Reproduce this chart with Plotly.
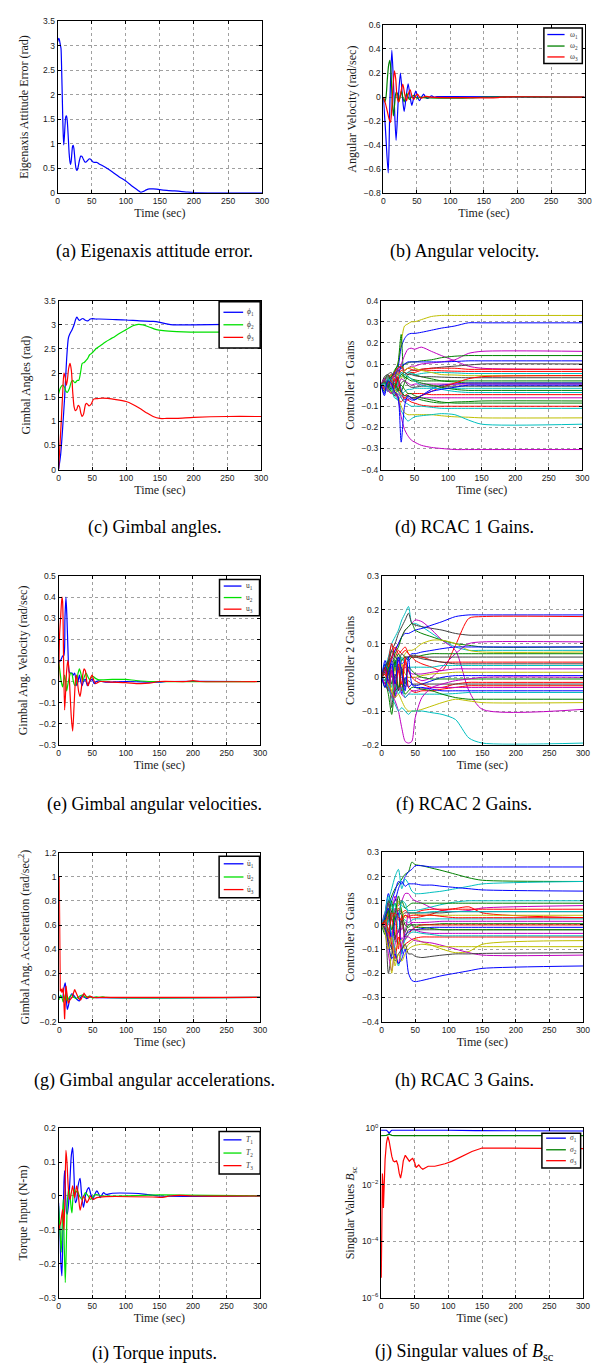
import plotly.graph_objects as go

W, H = 601, 1365
C = dict(b='#0000FF', g='#008000', r='#FF0000', c='#00BFBF', m='#BF00BF', y='#BFBF00', k='#404040', G='#00E000')

# ---------------- (a) eigenaxis attitude error ----------------
t_a = [0, 1, 2, 3, 4, 5, 6, 7, 8, 9, 10, 11, 12, 13, 14, 15, 16, 17, 18, 19, 20, 21, 22, 23, 24, 25, 26, 27, 28, 29, 30,
       32, 34, 35, 36, 38, 40, 42, 44, 46, 48, 50, 52, 54, 56, 58, 60, 70, 80, 90, 100, 110, 118, 122, 126, 130, 135,
       140, 145, 150, 160, 170, 180, 190, 200, 250, 300]
err_a = [3.08, 3.13, 3.15, 3.1, 3.02, 2.95, 2.5, 1.9, 1.3, 0.98, 1.15, 1.4, 1.55, 1.57, 1.5, 1.3, 1.05, 0.8, 0.65, 0.58,
         0.65, 0.82, 0.95, 0.97, 0.9, 0.75, 0.6, 0.5, 0.46, 0.47, 0.52, 0.66, 0.75, 0.75, 0.74, 0.68, 0.63, 0.63, 0.66,
         0.69, 0.69, 0.66, 0.63, 0.62, 0.62, 0.62, 0.6, 0.52, 0.43, 0.33, 0.24, 0.13, 0.05, 0.01, 0.03, 0.06, 0.08, 0.08,
         0.075, 0.065, 0.05, 0.04, 0.03, 0.015, 0.003, 0.0, 0.0]

# ---------------- (b) angular velocity ----------------
t_w1 = [0, 3, 7.3, 10, 12.7, 16, 19, 22.5, 25.5, 28.5, 31, 34, 37, 40, 42.5, 45.5, 48.5, 51, 54, 57, 60, 63, 66, 69, 72, 76, 80, 100, 300]
w1 = [0, -0.25, -0.63, 0.0, 0.39, 0.0, -0.36, 0.0, 0.2, 0.0, -0.12, 0.0, 0.11, 0.0, -0.07, 0.0, 0.05, 0.0, -0.03, 0.0,
      0.025, 0.0, -0.012, 0.0, 0.01, 0.0, 0.003, 0.003, 0.0]
t_w2 = [0, 2, 4, 6, 8, 9.8, 11.5, 13, 15, 17, 19, 21, 23, 25, 27, 29, 31, 33, 35, 37, 39, 42, 45, 48, 51, 55, 60, 70, 100, 130, 150, 300]
w2 = [0, -0.04, 0.0, 0.15, 0.27, 0.305, 0.2, 0.0, -0.157, -0.05, 0.04, 0.03, -0.04, 0.0, 0.05, 0.0, -0.04, 0.0, 0.03,
      0.0, -0.02, 0.0, 0.015, 0.0, -0.01, 0.0, -0.005, -0.008, -0.01, -0.008, 0.0, 0.0]
t_w3 = [0, 3, 6, 9, 10.8, 12.5, 14, 16.6, 18.5, 20.5, 23, 25.5, 29, 32, 34.5, 37, 40, 43, 45.5, 48, 51, 54, 57, 60, 64, 70, 170, 175, 300]
w3 = [0, -0.05, -0.12, -0.19, -0.21, -0.1, 0.05, 0.217, 0.15, 0.0, -0.04, 0.02, 0.107, 0.02, -0.03, 0.02, 0.06, 0.0,
      -0.02, 0.01, 0.025, 0.0, -0.01, 0.0, 0.005, 0.0, -0.005, 0.0, 0.0]
names_w = ['ω<sub>1</sub>', 'ω<sub>2</sub>', 'ω<sub>3</sub>']

# ---------------- (c) gimbal angles ----------------
t_p1 = [0, 3, 6, 9, 12, 14.6, 17, 20, 23, 25, 27, 29, 31, 34, 36, 39, 43, 47, 50, 55, 60, 80, 100, 120, 140, 150, 160, 170, 185, 200, 250, 300]
p1 = [0, 0.3, 0.85, 1.5, 2.3, 2.73, 2.82, 2.9, 3.0, 3.1, 3.16, 3.12, 3.09, 3.12, 3.13, 3.1, 3.08, 3.12, 3.13, 3.12,
      3.12, 3.11, 3.1, 3.08, 3.07, 3.05, 3.02, 3.0, 3.0, 3.0, 3.01, 3.01]
t_p2 = [0, 3, 6, 9, 11, 13, 16, 19, 21, 24, 26, 28, 30, 33, 35, 38, 40, 43, 46, 50, 55, 60, 70, 80, 90, 100, 110, 118,
        125, 135, 145, 155, 175, 195, 250, 300]
p2 = [1.57, 1.7, 1.75, 1.7, 1.62, 1.6, 1.68, 1.82, 1.85, 1.8, 1.82, 1.85, 1.85, 2.05, 2.2, 2.22, 2.25, 2.3, 2.38, 2.42,
      2.5, 2.55, 2.65, 2.73, 2.82, 2.9, 2.98, 3.01, 3.0, 2.95, 2.9, 2.88, 2.86, 2.85, 2.85, 2.86]
t_p3 = [0, 2, 4, 6, 8, 10, 11.5, 13, 15, 17, 19, 21, 23, 25, 27, 29, 31, 33, 35, 37, 40, 42, 45, 48, 52, 58, 65, 85,
        100, 110, 120, 130, 140, 150, 160, 175, 200, 250, 300]
p3 = [0.0, 0.5, 1.0, 1.55, 2.0, 1.9, 1.75, 1.85, 2.1, 2.2, 2.05, 1.6, 1.3, 1.22, 1.25, 1.33, 1.3, 1.17, 1.1, 1.15, 1.35,
      1.37, 1.32, 1.35, 1.46, 1.47, 1.48, 1.45, 1.41, 1.35, 1.27, 1.18, 1.1, 1.06, 1.06, 1.06, 1.08, 1.1, 1.1]
names_p = ['<i>ϕ</i><sub>1</sub>', '<i>ϕ</i><sub>2</sub>', '<i>ϕ</i><sub>3</sub>']

# ---------------- (e) gimbal angular velocities ----------------
t_u1 = [0, 3, 6, 8, 9.5, 11, 12.5, 14, 15.5, 17, 20, 22, 24, 26, 27, 29, 31, 33, 35, 37, 40, 43, 46, 50, 53, 56, 60, 70, 100, 150, 160, 300]
u1 = [0.09, 0.1, 0.12, 0.125, 0.3, 0.4, 0.3, 0.15, 0.05, 0.04, 0.04, 0.03, 0.04, 0.0, -0.02, 0.0, 0.03, 0.0, -0.02, 0.0,
      0.01, -0.02, 0.0, 0.01, -0.01, 0.0, 0.003, -0.003, 0.0, -0.003, 0.0, 0.0]
t_u2 = [0, 2, 4, 6, 8, 9, 10.5, 12, 14, 16, 18, 20, 22, 24.5, 27, 29, 31, 33, 36, 38, 41, 44, 46, 48, 51, 55, 60, 80, 100, 115, 140, 300]
u2 = [0.1, 0.05, 0.0, -0.025, 0.01, 0.03, 0.0, -0.045, -0.01, 0.02, 0.04, 0.035, 0.0, -0.02, 0.0, 0.04, 0.06, 0.04, 0.0,
      0.02, 0.04, 0.02, 0.01, 0.015, 0.025, 0.015, 0.008, 0.01, 0.01, 0.005, 0.0, 0.0]
t_u3 = [0, 1.5, 3, 5, 6, 7.5, 9, 10.5, 12, 14, 15.5, 17, 19, 21, 23, 25, 26.5, 28, 30, 32, 34, 36, 38, 40, 42, 44, 46,
        48, 50, 52, 55, 58, 62, 80, 100, 120, 135, 150, 190, 200, 210, 300]
u3 = [0.0, 0.22, 0.3, 0.4, 0.38, 0.1, -0.135, -0.05, 0.05, 0.1, 0.05, -0.05, -0.17, -0.235, -0.12, 0.0, 0.03, 0.0, -0.05,
      -0.07, -0.03, 0.03, 0.06, 0.05, 0.0, -0.02, 0.0, 0.02, 0.03, 0.01, -0.01, -0.005, 0.0, -0.003, -0.005, -0.01,
      -0.008, 0.0, 0.0, 0.004, 0.0, 0.0]
names_u = ['u<sub>1</sub>', 'u<sub>2</sub>', 'u<sub>3</sub>']

# ---------------- (g) gimbal angular accelerations ----------------
t_a1 = [0, 3, 5, 7, 9, 10.5, 12, 14, 16, 19, 21, 24, 27, 30, 32, 35, 38, 41, 45, 50, 300]
a1 = [0.01, 0.0, 0.0, 0.08, 0.12, 0.0, -0.1, -0.06, 0.0, 0.03, 0.02, 0.0, -0.02, -0.03, 0.0, 0.02, 0.0, -0.01, 0.005, 0.0, 0.0]
t_a2 = [0, 2, 4, 6, 8, 9.5, 12, 15, 18, 22, 25, 30, 35, 40, 45, 50, 55, 60, 65, 70, 300]
a2 = [-0.02, 0.02, 0.0, -0.04, 0.0, 0.03, -0.03, 0.0, 0.02, 0.0, -0.01, 0.01, 0.02, 0.0, 0.01, -0.005, 0.005, 0.0, 0.005, 0.0, 0.0]
t_a3 = [0, 0.6, 1.5, 3, 4, 6, 8, 10, 12, 13.5, 16, 19, 23, 26, 29, 32, 34, 37, 40, 43, 46, 50, 55, 60, 300]
a3 = [1.0, 0.15, 0.05, 0.07, 0.04, 0.08, -0.18, 0.095, 0.0, -0.05, -0.02, 0.0, 0.065, 0.03, -0.01, -0.02, 0.0, 0.033,
      0.01, -0.005, 0.01, 0.0, -0.003, 0.0, 0.0]
names_a = ['u̇<sub>1</sub>', 'u̇<sub>2</sub>', 'u̇<sub>3</sub>']

# ---------------- (i) torque inputs ----------------
t_T1 = [0, 2, 3.5, 5, 6.5, 8, 9, 10.5, 12, 13, 15, 17, 19, 21, 23, 25, 27, 29, 32, 34, 37, 40, 43, 45, 48, 51, 54, 57,
        60, 62, 65, 67, 70, 73, 80, 110, 130, 150, 300]
T1 = [-0.02, -0.1, -0.2, -0.236, -0.1, 0.04, 0.075, 0.0, -0.05, -0.054, -0.02, 0.05, 0.12, 0.143, 0.06, -0.02, -0.01,
      0.03, 0.052, 0.01, -0.034, 0.0, 0.02, 0.025, 0.005, -0.01, 0.005, 0.015, 0.005, -0.005, 0.005, 0.01, 0.005, 0.005,
      0.008, 0.008, 0.005, 0.0, 0.0]
t_T2 = [0, 2, 4, 5.5, 7, 8.5, 10, 11.5, 13, 15, 17, 19, 20, 21.5, 23, 25, 28, 31, 35, 40, 44, 48, 52, 55, 65, 150, 300]
T2 = [-0.03, -0.1, -0.166, -0.08, -0.01, -0.15, -0.256, -0.15, -0.02, 0.02, 0.0, -0.04, -0.05, 0.0, 0.02, 0.01, 0.015,
      0.0, -0.01, 0.01, 0.0, -0.01, 0.0, 0.005, 0.0, 0.003, 0.0]
t_T3 = [0, 1.5, 3, 4.5, 6, 7, 8, 9.5, 11, 12.5, 14, 15.5, 17, 19, 21, 22.5, 24, 26, 27, 29.5, 32, 34.5, 37, 40, 42, 45,
        47, 50, 52, 57, 70, 140, 155, 165, 180, 200, 300]
T3 = [-0.1, -0.09, -0.08, -0.06, -0.04, -0.07, -0.1, 0.0, 0.135, 0.1, 0.04, 0.0, -0.01, 0.01, 0.03, 0.01, -0.005, 0.02,
      0.03, 0.0, -0.042, -0.02, 0.0, -0.01, -0.02, -0.01, 0.0, -0.008, -0.01, -0.005, -0.002, -0.003, -0.004, 0.0,
      0.002, 0.0, 0.0]
names_T = ['<i>T</i><sub>1</sub>', '<i>T</i><sub>2</sub>', '<i>T</i><sub>3</sub>']

# ---------------- (j) singular values ----------------
t_s1 = [0, 8, 10, 12, 14, 16, 100, 140, 300]
s1 = [0.85, 0.85, 0.78, 0.66, 0.78, 0.85, 0.85, 0.82, 0.8]
t_s2 = [0, 8, 12, 16, 20, 300]
s2 = [0.55, 0.56, 0.62, 0.56, 0.55, 0.55]
t_s3 = [0.3, 1, 2, 2.8, 3.5, 4.5, 6, 8, 10, 12, 14, 16, 18, 20, 23, 25, 27, 29, 31, 33, 36, 39, 42, 45, 47, 50, 52, 54,
        56, 59, 62, 66, 70, 80, 95, 105, 120, 135, 150, 200, 210, 300]
s3 = [5e-6, 2e-4, 0.025, 0.01, 1.5e-3, 0.01, 0.08, 0.3, 0.51, 0.35, 0.18, 0.1, 0.07, 0.065, 0.07, 0.05, 0.025, 0.017,
      0.03, 0.07, 0.11, 0.09, 0.068, 0.08, 0.085, 0.06, 0.04, 0.045, 0.05, 0.04, 0.035, 0.04, 0.045, 0.045, 0.055,
      0.067, 0.1, 0.15, 0.2, 0.2, 0.19, 0.19]
names_s = ['<i>σ</i><sub>1</sub>', '<i>σ</i><sub>2</sub>', '<i>σ</i><sub>3</sub>']

# ---------------- RCAC gains (d), (f), (h) ----------------
t_gain = [0, 5, 10, 15, 20, 25, 30, 35, 40, 45, 50, 60, 75, 90, 110, 130, 150, 300]

gains1_cols = list('ybgmmgbkrrcykgbmrkcgcrmggrcycmb')
gains1 = [
    [0, 0.01, 0.02, 0.03, 0.06, 0.1, 0.2, 0.28, 0.29, 0.3, 0.3, 0.31, 0.325, 0.33, 0.33, 0.33, 0.33, 0.33],
    [0, -0.01, 0.02, 0.04, 0.05, 0.08, 0.18, 0.22, 0.24, 0.245, 0.245, 0.25, 0.26, 0.27, 0.28, 0.295, 0.295, 0.295],
    [0, 0.02, 0.04, 0.03, 0.06, 0.1, 0.24, 0.03, 0.05, 0.06, 0.05, 0.04, 0.03, 0.02, 0.015, 0.01, 0.01, 0.01],
    [0, 0.01, 0.03, 0.05, 0.04, 0.07, 0.1, 0.14, 0.17, 0.175, 0.17, 0.18, 0.16, 0.14, 0.115, 0.09, 0.08, 0.075],
    [0, -0.01, 0.02, 0.05, 0.03, 0.06, 0.08, 0.07, 0.08, 0.09, 0.09, 0.1, 0.105, 0.11, 0.12, 0.15, 0.16, 0.16],
    [0, 0.02, 0.05, 0.03, 0.07, 0.09, 0.08, 0.1, 0.105, 0.11, 0.11, 0.115, 0.12, 0.13, 0.137, 0.14, 0.14, 0.14],
    [0, 0.01, -0.02, 0.04, 0.06, 0.05, 0.09, 0.1, 0.11, 0.11, 0.11, 0.11, 0.11, 0.11, 0.112, 0.115, 0.115, 0.115],
    [0, 0.03, 0.05, 0.06, 0.04, 0.07, 0.06, 0.05, 0.06, 0.07, 0.07, 0.075, 0.08, 0.085, 0.09, 0.095, 0.1, 0.1],
    [0, 0.02, 0.04, 0.02, 0.06, 0.08, 0.09, 0.07, 0.08, 0.075, 0.07, 0.075, 0.08, 0.08, 0.08, 0.075, 0.075, 0.075],
    [0, -0.02, 0.03, 0.05, 0.02, 0.04, 0.07, 0.06, 0.05, 0.06, 0.06, 0.07, 0.07, 0.068, 0.066, 0.065, 0.065, 0.065],
    [0, 0.01, 0.04, -0.02, 0.03, 0.05, 0.04, 0.05, 0.06, 0.055, 0.05, 0.055, 0.06, 0.06, 0.058, 0.055, 0.055, 0.055],
    [0, 0.02, 0.01, 0.05, 0.02, 0.06, 0.03, 0.07, 0.08, 0.085, 0.08, 0.07, 0.06, 0.05, 0.048, 0.045, 0.045, 0.045],
    [0, 0.04, 0.05, 0.02, -0.01, 0.03, 0.05, 0.06, 0.05, 0.05, 0.045, 0.04, 0.04, 0.038, 0.036, 0.035, 0.035, 0.035],
    [0, -0.03, 0.02, 0.04, 0.05, 0.02, -0.03, 0.01, 0.04, 0.03, 0.025, 0.02, 0.02, 0.02, 0.02, 0.02, 0.02, 0.02],
    [0, -0.05, 0.01, -0.02, 0.02, 0.03, -0.02, -0.07, -0.06, -0.07, -0.07, -0.05, -0.02, 0.0, 0.005, 0.01, 0.01, 0.01],
    [0, 0.03, -0.02, 0.02, 0.05, -0.01, 0.03, 0.02, 0.01, 0.0, 0.005, 0.005, 0.005, 0.005, 0.005, 0.005, 0.005, 0.005],
    [0, 0.01, -0.03, -0.01, 0.03, -0.02, -0.05, -0.06, -0.05, -0.06, -0.06, -0.05, -0.03, -0.01, 0.01, 0.03, 0.04, 0.045],
    [0, 0.02, -0.01, 0.03, 0.0, -0.03, 0.01, 0.02, 0.0, -0.01, -0.01, -0.005, -0.005, -0.005, -0.005, -0.005, -0.005, -0.005],
    [0, -0.01, 0.03, 0.01, -0.04, -0.07, -0.05, -0.03, -0.02, -0.02, -0.015, -0.015, -0.015, -0.015, -0.015, -0.015, -0.015, -0.015],
    [0, 0.01, 0.0, -0.03, -0.02, 0.02, 0.05, 0.04, 0.03, 0.02, 0.02, 0.01, 0.0, -0.01, -0.02, -0.025, -0.025, -0.025],
    [0, -0.02, 0.02, 0.03, -0.03, 0.01, 0.06, 0.05, 0.04, 0.03, 0.02, 0.0, -0.01, -0.02, -0.03, -0.035, -0.035, -0.035],
    [0, 0.01, -0.02, -0.04, -0.01, 0.04, -0.04, -0.05, -0.04, -0.04, -0.04, -0.04, -0.045, -0.045, -0.045, -0.045, -0.045, -0.045],
    [0, 0.0, -0.03, 0.01, -0.05, -0.04, -0.06, -0.08, -0.07, -0.06, -0.06, -0.06, -0.06, -0.06, -0.06, -0.06, -0.06, -0.06],
    [0, -0.01, 0.02, -0.02, 0.01, -0.02, -0.03, -0.05, -0.05, -0.06, -0.06, -0.07, -0.08, -0.085, -0.08, -0.078, -0.075, -0.075],
    [0, 0.01, -0.01, -0.03, -0.05, -0.02, 0.0, -0.02, -0.04, -0.04, -0.05, -0.06, -0.07, -0.08, -0.085, -0.085, -0.085, -0.085],
    [0, -0.02, 0.01, 0.02, -0.03, -0.06, -0.08, -0.06, -0.07, -0.08, -0.085, -0.095, -0.1, -0.1, -0.1, -0.1, -0.1, -0.1],
    [0, 0.0, -0.02, -0.01, -0.04, -0.03, -0.06, -0.08, -0.09, -0.1, -0.1, -0.1, -0.105, -0.11, -0.11, -0.11, -0.11, -0.11],
    [0, -0.01, -0.02, -0.03, -0.02, -0.05, -0.1, -0.13, -0.14, -0.14, -0.14, -0.14, -0.14, -0.145, -0.15, -0.152, -0.155, -0.155],
    [0, 0.01, -0.03, -0.02, -0.06, -0.07, -0.12, -0.15, -0.17, -0.16, -0.15, -0.145, -0.14, -0.135, -0.14, -0.165, -0.185, -0.185],
    [0, -0.01, -0.02, -0.04, -0.03, -0.06, -0.15, -0.21, -0.24, -0.26, -0.27, -0.285, -0.295, -0.3, -0.305, -0.305, -0.305, -0.305],
    [0, -0.04, 0.02, 0.01, -0.03, -0.05, -0.27, -0.1, -0.05, -0.06, -0.07, -0.05, -0.03, -0.02, -0.01, 0.0, 0.0, 0.0],
]

gains2_cols = list('ckmbrgymbgkrcmybgrkrmcgymckb')
gains2 = [
    [0, 0.03, 0.06, 0.1, 0.12, 0.14, 0.17, 0.19, 0.21, 0.16, 0.16, 0.15, 0.13, 0.11, 0.09, 0.08, 0.08, 0.08],
    [0, 0.02, 0.04, 0.08, 0.1, 0.13, 0.15, 0.17, 0.19, 0.16, 0.155, 0.15, 0.145, 0.14, 0.13, 0.125, 0.125, 0.125],
    [0, 0.01, 0.03, 0.05, 0.08, 0.1, 0.12, 0.14, 0.15, 0.16, 0.17, 0.165, 0.14, 0.11, 0.08, -0.04, -0.095, -0.095],
    [0, 0.05, 0.02, 0.06, 0.08, 0.1, 0.12, 0.13, 0.13, 0.135, 0.14, 0.145, 0.155, 0.165, 0.18, 0.185, 0.185, 0.185],
    [0, 0.02, 0.05, 0.1, 0.06, 0.08, 0.07, 0.08, 0.07, 0.06, 0.05, 0.04, 0.03, 0.02, 0.095, 0.175, 0.18, 0.18],
    [0, 0.02, 0.04, 0.03, 0.07, 0.09, 0.12, 0.14, 0.15, 0.16, 0.14, 0.13, 0.12, 0.11, 0.1, 0.095, 0.09, 0.09],
    [0, 0.01, 0.03, 0.05, 0.04, 0.06, 0.05, 0.07, 0.08, 0.08, 0.085, 0.1, 0.11, 0.11, 0.1, 0.08, 0.075, 0.075],
    [0, -0.01, 0.02, 0.04, 0.02, 0.05, 0.03, 0.04, 0.02, 0.0, 0.0, -0.01, 0.0, 0.03, 0.07, 0.1, 0.105, 0.105],
    [0, 0.03, -0.02, 0.05, 0.03, 0.06, 0.04, 0.05, 0.06, 0.07, 0.07, 0.075, 0.08, 0.085, 0.09, 0.09, 0.09, 0.09],
    [0, 0.02, 0.05, 0.0, 0.04, 0.07, 0.05, 0.06, 0.05, 0.06, 0.06, 0.065, 0.07, 0.07, 0.07, 0.07, 0.07, 0.07],
    [0, 0.01, 0.04, 0.06, 0.05, 0.03, 0.05, 0.06, 0.06, 0.065, 0.065, 0.06, 0.06, 0.06, 0.06, 0.06, 0.06, 0.06],
    [0, -0.02, 0.03, 0.06, 0.09, 0.07, 0.08, 0.09, 0.07, 0.06, 0.06, 0.06, 0.05, 0.045, 0.045, 0.045, 0.045, 0.045],
    [0, 0.04, 0.02, -0.03, 0.05, 0.02, 0.06, 0.04, 0.03, 0.03, 0.03, 0.03, 0.03, 0.035, 0.035, 0.035, 0.035, 0.035],
    [0, 0.02, -0.03, 0.03, -0.04, 0.05, 0.02, 0.03, 0.02, 0.01, 0.01, 0.01, 0.015, 0.02, 0.025, 0.025, 0.025, 0.025],
    [0, -0.02, 0.01, -0.05, 0.03, -0.03, 0.04, 0.01, 0.0, 0.0, 0.0, 0.005, 0.01, 0.012, 0.015, 0.015, 0.015, 0.015],
    [0, 0.04, -0.01, 0.02, -0.06, 0.03, -0.05, 0.0, -0.03, -0.02, -0.025, -0.02, -0.01, 0.0, 0.005, 0.005, 0.005, 0.005],
    [0, -0.03, 0.03, -0.02, 0.05, -0.04, 0.02, -0.02, 0.03, 0.02, 0.01, 0.0, -0.005, -0.005, -0.005, -0.005, -0.005, -0.005],
    [0, 0.01, -0.04, 0.02, -0.03, 0.04, -0.02, 0.05, 0.02, 0.0, -0.01, -0.02, -0.03, -0.03, -0.02, -0.015, -0.015, -0.015],
    [0, -0.01, 0.02, -0.09, 0.01, -0.04, 0.03, -0.03, -0.01, -0.02, -0.02, -0.02, -0.02, -0.02, -0.02, -0.02, -0.02, -0.02],
    [0, 0.03, -0.02, -0.06, -0.03, 0.02, -0.04, 0.06, -0.03, -0.04, -0.045, -0.04, -0.04, -0.035, -0.03, -0.025, -0.025, -0.025],
    [0, -0.02, -0.04, 0.02, -0.06, -0.03, -0.05, -0.06, -0.05, -0.04, -0.04, -0.035, -0.03, -0.03, -0.03, -0.03, -0.03, -0.03],
    [0, 0.0, -0.03, -0.05, -0.02, -0.05, -0.03, -0.06, -0.05, -0.05, -0.05, -0.05, -0.05, -0.05, -0.048, -0.045, -0.045, -0.045],
    [0, -0.01, -0.05, -0.11, -0.04, -0.03, -0.02, -0.05, -0.04, -0.03, -0.03, -0.035, -0.04, -0.05, -0.06, -0.065, -0.065, -0.065],
    [0, -0.01, -0.02, -0.04, -0.06, -0.05, -0.07, -0.09, -0.1, -0.1, -0.1, -0.095, -0.085, -0.075, -0.065, -0.07, -0.075, -0.075],
    [0, -0.02, -0.03, -0.05, -0.07, -0.1, -0.15, -0.19, -0.195, -0.19, -0.12, -0.06, -0.03, -0.02, -0.01, -0.005, 0.0, 0.0],
    [0, -0.01, -0.03, -0.06, -0.08, -0.1, -0.09, -0.1, -0.11, -0.1, -0.1, -0.1, -0.105, -0.11, -0.125, -0.18, -0.195, -0.195],
    [0, 0.03, 0.05, 0.08, 0.06, 0.05, 0.07, 0.06, 0.06, 0.06, 0.06, 0.055, 0.05, 0.045, 0.04, 0.04, 0.04, 0.04],
    [0, -0.03, 0.01, 0.04, -0.02, 0.06, 0.01, -0.04, 0.06, -0.02, -0.03, -0.03, -0.035, -0.04, -0.04, -0.04, -0.04, -0.04],
]

gains3_cols = list('gbcbcmgrrkycmgrbkmrcymkbgcyr')
gains3 = [
    [0, 0.03, 0.08, 0.12, 0.15, 0.17, 0.19, 0.21, 0.22, 0.26, 0.25, 0.245, 0.235, 0.225, 0.21, 0.195, 0.185, 0.18],
    [0, 0.02, 0.06, 0.1, 0.14, 0.18, 0.17, 0.2, 0.22, 0.23, 0.245, 0.245, 0.24, 0.24, 0.24, 0.24, 0.24, 0.24],
    [0, 0.04, 0.1, 0.15, 0.2, 0.23, 0.15, 0.19, 0.17, 0.14, 0.13, 0.13, 0.135, 0.14, 0.15, 0.16, 0.17, 0.18],
    [0, 0.05, 0.13, 0.08, 0.1, 0.15, 0.18, 0.16, 0.17, 0.17, 0.17, 0.165, 0.165, 0.16, 0.155, 0.15, 0.145, 0.14],
    [0, 0.01, 0.05, 0.07, 0.06, 0.09, 0.08, 0.07, 0.06, 0.06, 0.06, 0.065, 0.075, 0.085, 0.095, 0.1, 0.1, 0.1],
    [0, 0.03, 0.09, 0.05, 0.12, 0.08, 0.1, 0.13, 0.13, 0.11, 0.1, 0.09, 0.07, 0.06, 0.055, 0.06, 0.07, 0.08],
    [0, 0.02, -0.03, 0.06, 0.09, 0.04, 0.1, 0.07, 0.08, 0.09, 0.09, 0.09, 0.09, 0.09, 0.09, 0.09, 0.09, 0.09],
    [0, 0.01, 0.04, -0.05, 0.06, 0.02, 0.03, 0.04, 0.03, 0.03, 0.03, 0.035, 0.045, 0.06, 0.068, 0.075, 0.05, 0.03],
    [0, -0.03, 0.06, 0.03, -0.06, 0.07, 0.05, 0.06, 0.05, 0.05, 0.05, 0.06, 0.065, 0.065, 0.065, 0.065, 0.065, 0.065],
    [0, 0.04, 0.1, 0.02, 0.03, 0.06, 0.04, 0.05, 0.05, 0.05, 0.05, 0.05, 0.05, 0.05, 0.055, 0.055, 0.055, 0.055],
    [0, -0.02, 0.05, 0.08, 0.02, 0.1, 0.06, 0.03, 0.04, 0.05, 0.045, 0.04, 0.04, 0.04, 0.04, 0.04, 0.04, 0.04],
    [0, 0.02, -0.05, 0.04, 0.09, -0.03, 0.03, 0.02, 0.01, 0.02, 0.025, 0.025, 0.025, 0.025, 0.025, 0.025, 0.025, 0.025],
    [0, 0.05, 0.02, -0.06, 0.07, 0.04, -0.02, 0.01, 0.0, 0.01, 0.01, 0.01, 0.012, 0.015, 0.015, 0.015, 0.015, 0.015],
    [0, -0.04, 0.03, 0.1, -0.05, -0.08, 0.02, -0.03, 0.0, 0.0, 0.0, 0.0, 0.002, 0.005, 0.005, 0.005, 0.005, 0.005],
    [0, 0.01, -0.08, 0.05, 0.03, -0.1, 0.04, -0.06, -0.04, -0.02, -0.01, 0.0, 0.0, 0.0, 0.0, 0.0, 0.0, 0.0],
    [0, 0.03, 0.07, -0.1, 0.02, 0.05, -0.12, -0.04, -0.03, -0.02, -0.02, -0.015, -0.01, -0.01, -0.01, -0.01, -0.01, -0.01],
    [0, -0.02, -0.2, -0.12, -0.05, -0.03, 0.02, -0.05, -0.02, -0.02, -0.02, -0.02, -0.02, -0.02, -0.02, -0.02, -0.02, -0.02],
    [0, 0.0, -0.12, -0.19, -0.08, -0.02, -0.06, -0.03, 0.05, 0.0, -0.02, -0.03, -0.035, -0.035, -0.035, -0.035, -0.035, -0.035],
    [0, -0.01, -0.03, -0.08, -0.14, -0.05, -0.1, -0.08, -0.07, -0.06, -0.055, -0.05, -0.05, -0.05, -0.05, -0.05, -0.05, -0.05],
    [0, -0.03, 0.02, -0.04, -0.1, -0.17, -0.11, -0.06, -0.04, -0.03, -0.03, -0.035, -0.04, -0.045, -0.045, -0.045, -0.045, -0.045],
    [0, -0.01, -0.05, -0.2, -0.1, -0.08, -0.06, -0.1, -0.08, -0.07, -0.06, -0.07, -0.085, -0.1, -0.115, -0.11, -0.08, -0.065],
    [0, -0.02, -0.04, -0.06, -0.12, -0.16, -0.08, -0.05, -0.05, -0.06, -0.065, -0.07, -0.075, -0.085, -0.1, -0.115, -0.125, -0.125],
    [0, -0.01, -0.06, -0.1, -0.15, -0.12, -0.1, -0.08, -0.12, -0.12, -0.13, -0.135, -0.13, -0.125, -0.12, -0.12, -0.118, -0.115],
    [0, -0.02, -0.08, -0.14, -0.12, -0.16, -0.14, -0.1, -0.2, -0.23, -0.235, -0.23, -0.22, -0.21, -0.2, -0.19, -0.18, -0.17],
    [0, 0.02, 0.06, -0.02, 0.04, 0.12, 0.05, 0.0, -0.01, 0.0, -0.01, -0.01, -0.015, -0.02, -0.02, -0.02, -0.02, -0.02],
    [0, 0.05, 0.12, 0.08, 0.05, 0.03, 0.1, 0.09, 0.05, 0.05, 0.05, 0.05, 0.055, 0.055, 0.055, 0.055, 0.055, 0.055],
    [0, -0.03, -0.1, -0.05, -0.17, -0.12, -0.15, -0.12, -0.1, -0.09, -0.085, -0.08, -0.085, -0.09, -0.09, -0.09, -0.09, -0.09],
    [0, 0.02, -0.02, 0.03, 0.05, 0.03, 0.02, 0.04, 0.035, 0.04, 0.04, 0.04, 0.04, 0.035, 0.03, 0.03, 0.03, 0.03],
]

for g in (gains1, gains2, gains3):
    for row in g:
        assert len(row) == len(t_gain), row
assert len(gains1) == len(gains1_cols) and len(gains2) == len(gains2_cols) and len(gains3) == len(gains3_cols)

# ---------------- text ----------------
captions = ['(a) Eigenaxis attitude error.', '(b) Angular velocity.', '(c) Gimbal angles.', '(d) RCAC 1 Gains.',
            '(e) Gimbal angular velocities.', '(f) RCAC 2 Gains.', '(g) Gimbal angular accelerations.',
            '(h) RCAC 3 Gains.', '(i) Torque inputs.', '(j) Singular values of <i>B</i><sub>sc</sub>']
ytitles = ['Eigenaxis Attitude Error (rad)', 'Angular Velocity (rad/sec)', 'Gimbal Angles (rad)', 'Controller 1 Gains',
           'Gimbal Ang. Velocity (rad/sec)', 'Controller 2 Gains', 'Gimbal Ang. Acceleration (rad/sec<sup>2</sup>)',
           'Controller 3 Gains', 'Torque Input (N-m)', 'Singular Values <i>B</i><sub>sc</sub>']
yranges = [[0, 3.5], [-0.8, 0.6], [0, 3.5], [-0.4, 0.4], [-0.3, 0.5], [-0.2, 0.3], [-0.2, 1.2], [-0.4, 0.3], [-0.3, 0.2], [-6, 0]]
ydticks = [0.5, 0.2, 0.5, 0.1, 0.1, 0.1, 0.2, 0.1, 0.1, None]
xtitle = 'Time (sec)'

# layout geometry (page pixels)
BOX = [((48.3, 256), (7.3, 180.3)), ((379, 583.3), (11, 180.7)),
       ((49.3, 255), (289, 459.3)), ((376.7, 581), (289, 459.3)),
       ((49.3, 254), (566.7, 736.7)), ((377.3, 581.7), (566.7, 736.7)),
       ((50, 254), (845.5, 1015.7)), ((377.3, 581.7), (845.3, 1015.7)),
       ((49.3, 254), (1123.3, 1294)), ((376.7, 581.7), (1123.3, 1294))]
YSTAND = [11, 4, 10, 4, 8, 4, 7, 4, 8, 4]
CAP = [(147, 239), (461, 239), (147, 518), (461, 518), (147, 797), (461, 797), (147, 1075), (461, 1075), (147, 1350), (461, 1349)]

fig = go.Figure()
TICKF = dict(family='Liberation Sans, Arial, sans-serif', size=8.5, color='#1a1a1a')
TITF = dict(family='Liberation Serif, Times New Roman, serif', size=12, color='#1a1a1a')


def ax_names(i):
    n = '' if i == 1 else str(i)
    return 'x' + n, 'y' + n, 'xaxis' + n, 'yaxis' + n


def add_line(i, x, y, color, shape='spline', width=1.2):
    xa, ya, _, _ = ax_names(i)
    fig.add_trace(go.Scatter(x=x, y=y, xaxis=xa, yaxis=ya, mode='lines', showlegend=False, hoverinfo='skip',
                             line=dict(color=color, width=width, shape=shape, smoothing=0.7 if shape == 'spline' else None)))


# panel data
add_line(1, t_a, err_a, C['b'])
add_line(2, t_w1, w1, C['b']); add_line(2, t_w2, w2, C['g']); add_line(2, t_w3, w3, C['r'])
add_line(3, t_p1, p1, C['b']); add_line(3, t_p2, p2, C['G']); add_line(3, t_p3, p3, C['r'])
for row, col in zip(gains1, gains1_cols):
    add_line(4, t_gain, row, C[col], width=1.0)
add_line(5, t_u1, u1, C['b']); add_line(5, t_u2, u2, C['G']); add_line(5, t_u3, u3, C['r'])
for row, col in zip(gains2, gains2_cols):
    add_line(6, t_gain, row, C[col], width=1.0)
add_line(7, t_a1, a1, C['b']); add_line(7, t_a2, a2, C['G']); add_line(7, t_a3, a3, C['r'], shape='linear')
for row, col in zip(gains3, gains3_cols):
    add_line(8, t_gain, row, C[col], width=1.0)
add_line(9, t_T1, T1, C['b']); add_line(9, t_T2, T2, C['G']); add_line(9, t_T3, T3, C['r'])
add_line(10, t_s1, s1, C['b'], shape='linear'); add_line(10, t_s2, s2, C['g'], shape='linear')
add_line(10, t_s3, s3, C['r'], shape='linear')

layout = dict(width=W, height=H, margin=dict(l=0, r=0, t=0, b=0), paper_bgcolor='white', plot_bgcolor='white',
              showlegend=False)
common = dict(showline=True, linecolor='black', linewidth=1, mirror='allticks', ticks='inside', ticklen=3,
              tickcolor='black', tickwidth=0.8, showgrid=True, gridcolor='#a0a0a0', griddash='dot', gridwidth=0.8,
              zeroline=False, tickfont=TICKF)
annotations = []
for i in range(1, 11):
    (x0, x1), (y0, y1) = BOX[i - 1]
    xa, ya, xk, yk = ax_names(i)
    layout[xk] = dict(common, domain=[x0 / W, x1 / W], range=[0, 300], tick0=0, dtick=50, anchor=ya,
                      title=dict(text=xtitle, font=TITF, standoff=2))
    ycfg = dict(common, domain=[1 - y1 / H, 1 - y0 / H], anchor=xa,
                title=dict(text=ytitles[i - 1], font=TITF, standoff=YSTAND[i - 1]))
    if i == 10:
        ycfg.update(type='log', range=yranges[i - 1], tickvals=[1e-6, 1e-4, 1e-2, 1],
                    ticktext=['10<sup>−6</sup>', '10<sup>−4</sup>', '10<sup>−2</sup>', '10<sup>0</sup>'])
    else:
        ycfg.update(range=yranges[i - 1], tick0=0, dtick=ydticks[i - 1])
    layout[yk] = ycfg
    cx, cy = CAP[i - 1]
    annotations.append(dict(text=captions[i - 1], x=cx / W, y=1 - cy / H, xref='paper', yref='paper',
                            xanchor='center', yanchor='middle', showarrow=False,
                            font=dict(family='Liberation Serif, Times New Roman, serif', size=18, color='black')))

# legends drawn as boxes in page pixel positions
shapes = []
LEG = [
    (2, (542, 581, 14, 50), [20.7, 32.3, 43.3], (545.5, 563), 566, names_w, [C['b'], C['g'], C['r']]),
    (3, (212.3, 254, 290, 336.7), [300.7, 313.3, 326], (216.7, 236.7), 239, names_p, [C['b'], C['G'], C['r']]),
    (5, (212.7, 253.3, 570, 606.7), [576.7, 588.3, 600], (217, 235), 237.5, names_u, [C['b'], C['G'], C['r']]),
    (7, (212.3, 253.3, 849, 891), [856.7, 870, 882.7], (217, 237), 239, names_a, [C['b'], C['G'], C['r']]),
    (9, (212.3, 254, 1126.7, 1169.3), [1135, 1148.3, 1161], (216.7, 235), 237.7, names_T, [C['b'], C['G'], C['r']]),
    (10, (540, 579.3, 1128.3, 1163.3), [1133.3, 1145, 1156], (544.3, 564.3), 566.7, names_s, [C['b'], C['g'], C['r']]),
]
for _, (bx0, bx1, by0, by1), ys, (lx0, lx1), tx, names, cols in LEG:
    shapes.append(dict(type='rect', xref='paper', yref='paper', x0=bx0 / W, x1=bx1 / W, y0=1 - by1 / H, y1=1 - by0 / H,
                       line=dict(color='black', width=1.5), fillcolor='white', layer='above'))
    for yy, nm, cl in zip(ys, names, cols):
        shapes.append(dict(type='line', xref='paper', yref='paper', x0=lx0 / W, x1=lx1 / W, y0=1 - yy / H,
                           y1=1 - yy / H, line=dict(color=cl, width=1.3), layer='above'))
        annotations.append(dict(text=nm, x=tx / W, y=1 - yy / H, xref='paper', yref='paper', xanchor='left',
                                yanchor='middle', showarrow=False,
                                font=dict(family='Liberation Serif, Times New Roman, serif', size=7.5, color='#333')))

layout['annotations'] = annotations
layout['shapes'] = shapes
fig.update_layout(**layout)
fig.write_html('out.html')
